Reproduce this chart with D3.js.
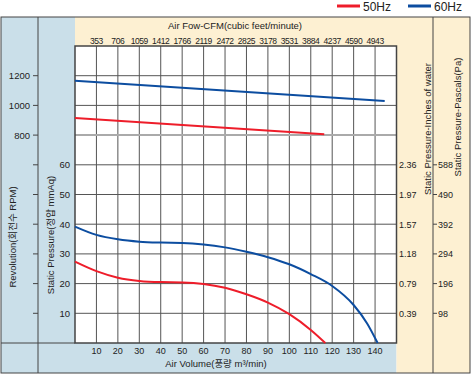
<!DOCTYPE html>
<html>
<head>
<meta charset="utf-8">
<script src="https://cdn.jsdelivr.net/npm/d3@7"></script>
<style>
  body { margin: 0; background: #fff; }
  text { font-family: "Liberation Sans", Arial, "Noto Sans CJK KR", sans-serif; fill: #222; }
</style>
</head>
<body>
<div id="chart"></div>
<script>
// air volume (m3/min) ticks and matching CFM labels
var flowTicks = [10, 20, 30, 40, 50, 60, 70, 80, 90, 100, 110, 120, 130, 140];
var cfmLabels = ["353", "706", "1059", "1412", "1766", "2119", "2472", "2825", "3178", "3531", "3884", "4237", "4590", "4943"];

// static pressure ticks (mmAq) and the other units
var pressureTicks = [10, 20, 30, 40, 50, 60];
var inchLabels = ["0.39", "0.79", "1.18", "1.57", "1.97", "2.36"];
var pascalLabels = ["98", "196", "294", "392", "490", "588"];
var rpmLabels = [800, 1000, 1200];

// revolution lines (RPM)
var rpm50 = [[0, 915], [116.3, 805]];
var rpm60 = [[0, 1166], [144.5, 1030]];

// static pressure curves
var flow50 = [0, 10, 20, 30, 40, 50, 60, 70, 80, 90, 100, 110, 116.8];
var press50 = [27.4, 24.2, 22.0, 20.9, 20.5, 20.4, 19.9, 18.6, 16.4, 13.6, 9.7, 4.4, 0];
var flow60 = [0, 10, 20, 30, 40, 50, 60, 70, 80, 90, 100, 110, 120, 130, 136.3, 141.2];
var press60 = [39.2, 36.4, 34.9, 34.1, 33.8, 33.7, 33.2, 32.2, 30.7, 28.9, 26.5, 23.2, 19.2, 12.8, 6.6, 0];

var W = 471, H = 375;
var pL = 75, pR = 396.5, pT = 46, pB = 343;
var red = "#ee1d2a", blue = "#0c4da0";
var lightBlue = "#cadfe9", beige = "#fdf0d2";

var svg = d3.select("#chart").append("svg")
    .attr("width", W)
    .attr("height", H);

var x = d3.scaleLinear().domain([0, 150]).range([pL, pR]);
var y = d3.scaleLinear().domain([0, 100]).range([pB, pT]);
var yRpm = d3.scaleLinear().domain([-600, 1400]).range([pB, pT]);

// panels
svg.append("rect").attr("x", 1).attr("y", 17).attr("width", pL - 1).attr("height", 356).attr("fill", lightBlue);
svg.append("rect").attr("x", pL).attr("y", pB).attr("width", pR - pL).attr("height", 373 - pB).attr("fill", lightBlue);
svg.append("rect").attr("x", pL).attr("y", 17).attr("width", 470 - pL).attr("height", pT - 17).attr("fill", beige);
svg.append("rect").attr("x", pR).attr("y", pT).attr("width", 470 - pR).attr("height", 373 - pT).attr("fill", beige);
svg.append("rect").attr("x", pL).attr("y", pT).attr("width", pR - pL).attr("height", pB - pT).attr("fill", "#fff");

// grid
var grid = svg.append("g").attr("stroke", "#555").attr("stroke-width", 1);
grid.selectAll("line.v").data(flowTicks).enter().append("line")
    .attr("x1", function(d) { return x(d); })
    .attr("x2", function(d) { return x(d); })
    .attr("y1", pT).attr("y2", pB);
grid.selectAll("line.h").data(d3.range(10, 100, 10)).enter().append("line")
    .attr("x1", pL).attr("x2", pR)
    .attr("y1", function(d) { return y(d); })
    .attr("y2", function(d) { return y(d); })
    .attr("stroke", function(d) { return d == 70 ? "#aaa" : "#555"; })
    .attr("stroke-width", function(d) { return d == 70 ? 2 : 1; });

// frame lines
var frame = svg.append("g").attr("stroke", "#444").attr("fill", "none");
frame.append("rect").attr("x", 1).attr("y", 17).attr("width", 469).attr("height", 356);
frame.append("rect").attr("x", pL).attr("y", pT).attr("width", pR - pL).attr("height", pB - pT).attr("stroke-width", 1.5);
frame.append("line").attr("x1", 38).attr("x2", 38).attr("y1", 17).attr("y2", 373);
frame.append("line").attr("x1", 433).attr("x2", 433).attr("y1", 17).attr("y2", 373);
frame.append("line").attr("x1", 1).attr("x2", pL).attr("y1", pB).attr("y2", pB);

// bottom axis labels
svg.append("g").selectAll("text").data(flowTicks).enter().append("text")
    .attr("x", function(d) { return x(d); })
    .attr("y", 354)
    .attr("text-anchor", "middle")
    .attr("font-size", "9px")
    .text(function(d) { return d; });
svg.append("text").attr("x", 216).attr("y", 367).attr("text-anchor", "middle")
    .attr("font-size", "9.5px").text("Air Volume(풍량 m³/min)");

// top CFM axis
svg.append("g").selectAll("text").data(flowTicks).enter().append("text")
    .attr("x", function(d) { return x(d); })
    .attr("y", 43.5)
    .attr("text-anchor", "middle")
    .attr("font-size", "8.5px")
    .attr("letter-spacing", "-0.4px")
    .text(function(d, i) { return cfmLabels[i]; });
svg.append("text").attr("x", 235).attr("y", 28.5).attr("text-anchor", "middle")
    .attr("font-size", "9.5px").text("Air Fow-CFM(cubic feet/minute)");

// left RPM axis: ticks on every grid row, labels on top three
var rpmTickVals = d3.range(-400, 1300, 200);
svg.append("g").selectAll("line").data(rpmTickVals).enter().append("line")
    .attr("x1", 33).attr("x2", 38)
    .attr("y1", function(d) { return yRpm(d); })
    .attr("y2", function(d) { return yRpm(d); })
    .attr("stroke", "#444");
svg.append("g").selectAll("text").data(rpmLabels).enter().append("text")
    .attr("x", 30)
    .attr("y", function(d) { return yRpm(d) + 3.5; })
    .attr("text-anchor", "end")
    .attr("font-size", "9.5px")
    .text(function(d) { return d; });

// left pressure labels
svg.append("g").selectAll("text").data(pressureTicks).enter().append("text")
    .attr("x", 70)
    .attr("y", function(d) { return y(d) + 3.5; })
    .attr("text-anchor", "end")
    .attr("font-size", "9.5px")
    .text(function(d) { return d; });

// right axes
svg.append("g").selectAll("text").data(pressureTicks).enter().append("text")
    .attr("x", 399)
    .attr("y", function(d) { return y(d) + 3.5; })
    .attr("font-size", "9px")
    .text(function(d, i) { return inchLabels[i]; });
svg.append("g").selectAll("line").data(pressureTicks).enter().append("line")
    .attr("x1", 433).attr("x2", 437)
    .attr("y1", function(d) { return y(d); })
    .attr("y2", function(d) { return y(d); })
    .attr("stroke", "#444");
svg.append("g").selectAll("text").data(pressureTicks).enter().append("text")
    .attr("x", 438)
    .attr("y", function(d) { return y(d) + 3.5; })
    .attr("font-size", "9px")
    .text(function(d, i) { return pascalLabels[i]; });

// rotated titles
function vtext(cx, cy, s) {
    svg.append("text")
        .attr("transform", "translate(" + cx + "," + cy + ") rotate(-90)")
        .attr("text-anchor", "middle")
        .attr("dominant-baseline", "central")
        .attr("font-size", "9.5px")
        .text(s);
}
vtext(12, 237, "Revolution(회전수 RPM)");
vtext(50, 235, "Static Pressure(정압 mmAq)");
vtext(427, 129, "Static Pressure-Inches of water");
vtext(457, 117, "Static Pressure-Pascals(Pa)");

// lines
var rpmLine = d3.line()
    .x(function(d) { return x(d[0]); })
    .y(function(d) { return yRpm(d[1]); });
var pLine = d3.line()
    .x(function(d) { return x(d[0]); })
    .y(function(d) { return y(d[1]); })
    .curve(d3.curveMonotoneX);

svg.append("path").datum(rpm50).attr("d", rpmLine).attr("fill", "none").attr("stroke", red).attr("stroke-width", 2);
svg.append("path").datum(rpm60).attr("d", rpmLine).attr("fill", "none").attr("stroke", blue).attr("stroke-width", 2);
svg.append("path").datum(d3.zip(flow50, press50)).attr("d", pLine).attr("fill", "none").attr("stroke", red).attr("stroke-width", 2);
svg.append("path").datum(d3.zip(flow60, press60)).attr("d", pLine).attr("fill", "none").attr("stroke", blue).attr("stroke-width", 2);

// legend
var legend = [["50Hz", red, 337], ["60Hz", blue, 408]];
var lg = svg.append("g").selectAll("g").data(legend).enter().append("g");
lg.append("line")
    .attr("x1", function(d) { return d[2]; })
    .attr("x2", function(d) { return d[2] + 23; })
    .attr("y1", 6).attr("y2", 6)
    .attr("stroke", function(d) { return d[1]; })
    .attr("stroke-width", 3);
lg.append("text")
    .attr("x", function(d) { return d[2] + 26; })
    .attr("y", 10.5)
    .attr("font-size", "12px")
    .text(function(d) { return d[0]; });
</script>
</body>
</html>
